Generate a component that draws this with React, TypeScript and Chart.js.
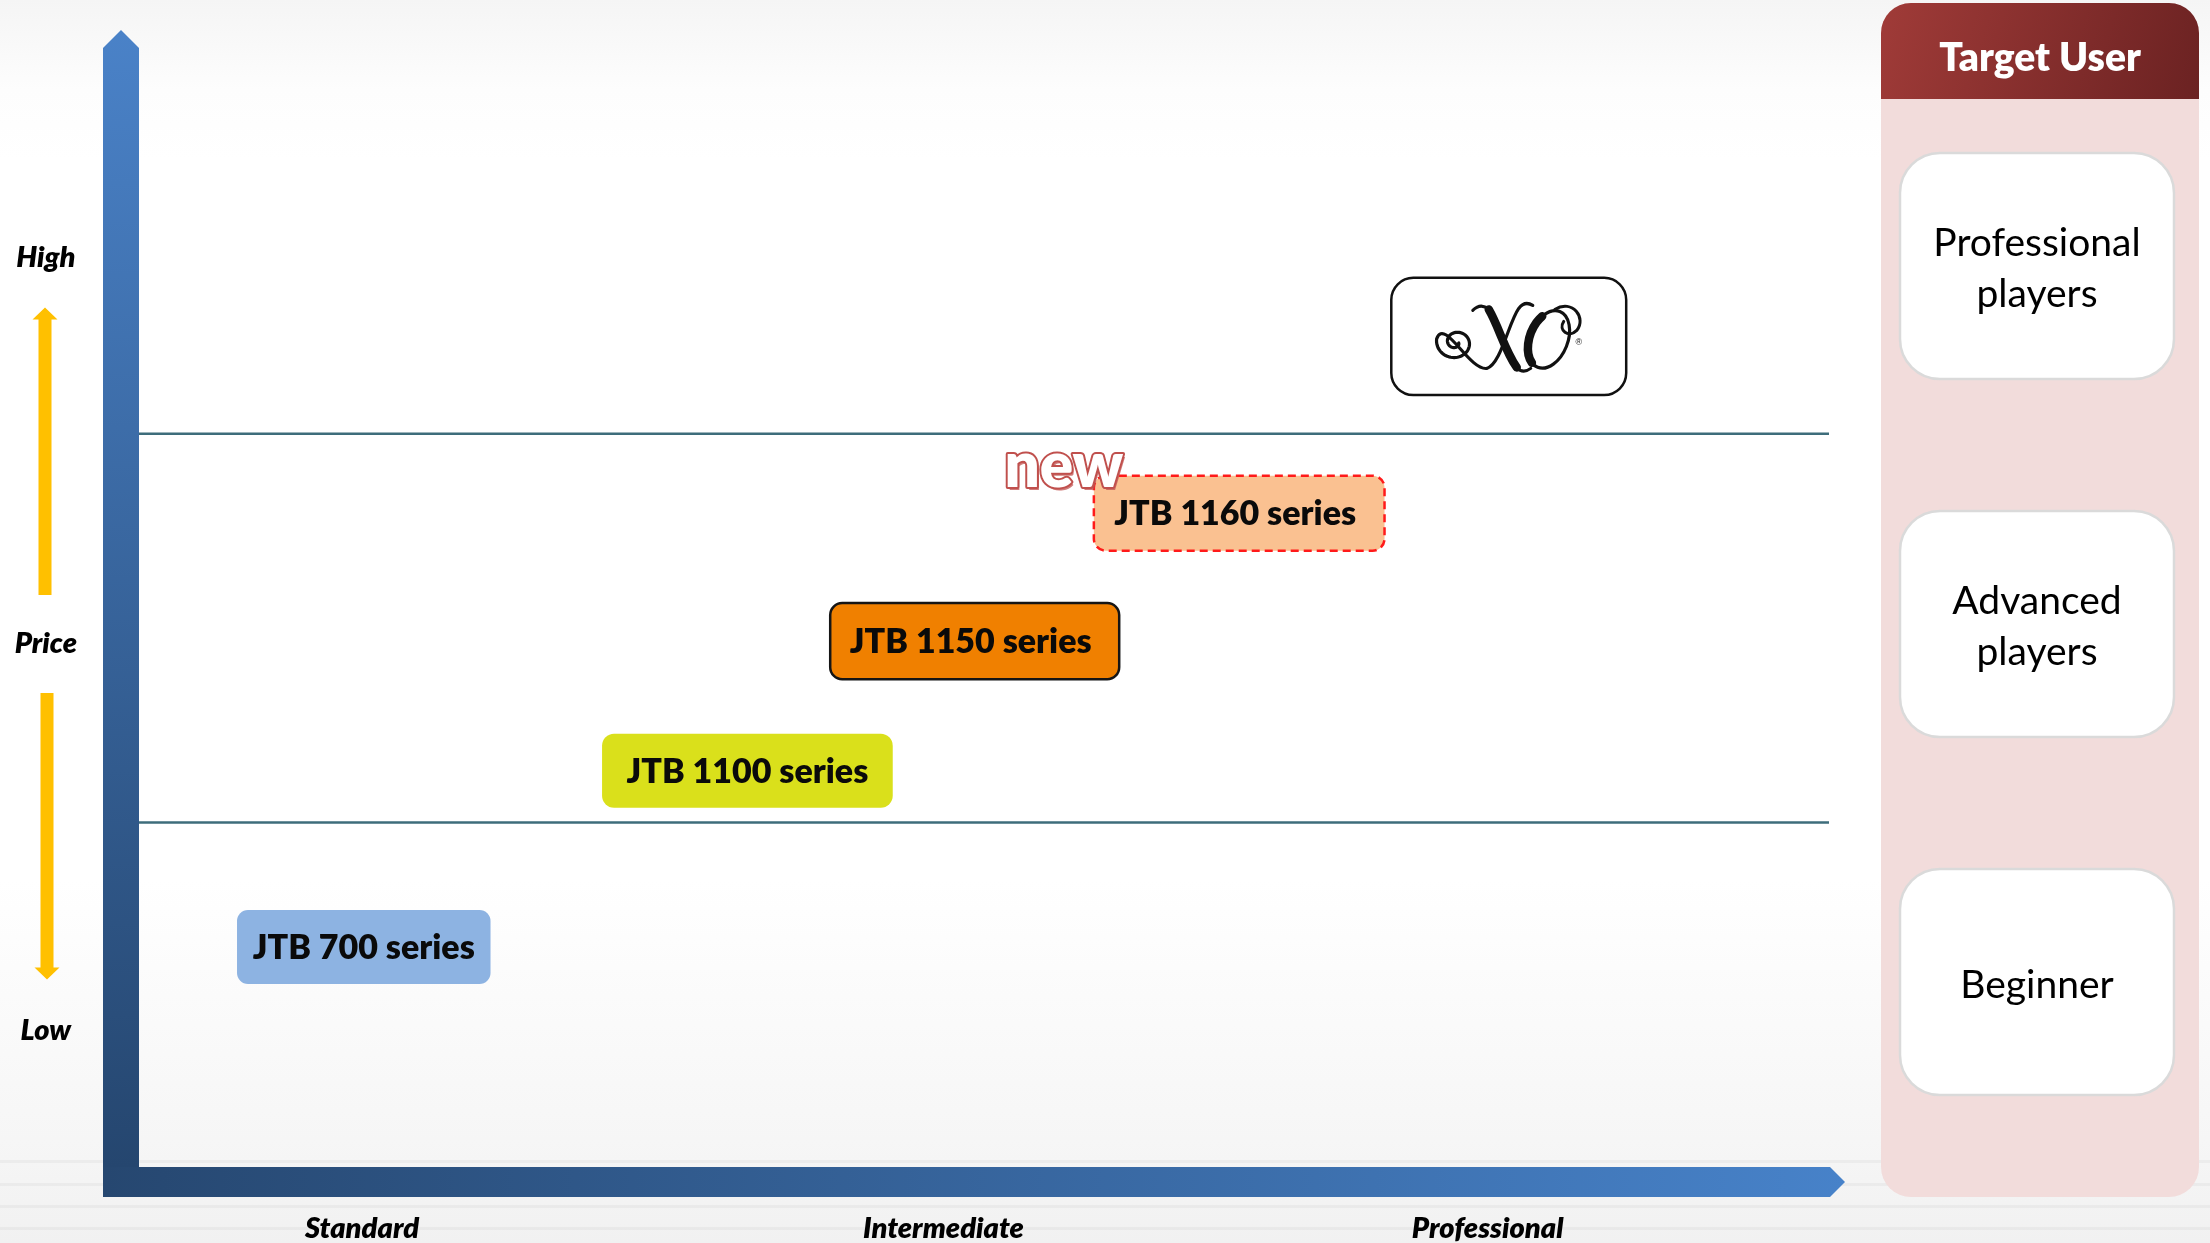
import React, { useEffect, useRef } from "react";
import { Chart, registerables } from "chart.js";

Chart.register(...registerables);

// ---- data ----
const xTickValues = [13.2, 47.6, 79.8];
const xTickLabels = ["Standard", "Intermediate", "Professional"];
const yTickValues = [80, 46, 12];
const yTickLabels = ["High", "Price", "Low"];
const tierBoundaries = [64.5, 30.3];

const productNames = ["JTB 700 series", "JTB 1100 series", "JTB 1150 series", "JTB 1160 series", "XO"];
const productXStart = [5.8, 27.4, 40.9, 56.5, 74.1];
const productXEnd = [20.8, 44.6, 58.0, 73.7, 88.0];
const productYLow = [16.1, 31.6, 42.9, 54.2, 67.9];
const productYHigh = [22.6, 38.1, 49.6, 60.8, 78.2];
const productIsNew = [false, false, false, true, false];

const targetUsers = [["Professional", "players"], ["Advanced", "players"], ["Beginner"]];
const panelTitle = "Target User";

// ---- styles ----
const BOLD = "800";
const productStyles = [
  { fill: "#8db3e2", stroke: null as string | null, dash: null as number[] | null, radius: 11 },
  { fill: "#dae01b", stroke: null, dash: null, radius: 12 },
  { fill: "#f08000", stroke: "#151515", dash: null, radius: 12 },
  { fill: "#fac191", stroke: "#ff1a1a", dash: [8, 5], radius: 12 },
  { fill: "#ffffff", stroke: "#111111", dash: null, radius: 22 },
];

function arrowV(ctx: CanvasRenderingContext2D, cx: number, yTail: number, yTip: number) {
  const dir = yTip < yTail ? -1 : 1;
  const sh = 6.5, hh = 12.5, hl = 12;
  const yBase = yTip - dir * hl;
  ctx.beginPath();
  ctx.moveTo(cx, yTip);
  ctx.lineTo(cx + hh, yBase);
  ctx.lineTo(cx + sh, yBase);
  ctx.lineTo(cx + sh, yTail);
  ctx.lineTo(cx - sh, yTail);
  ctx.lineTo(cx - sh, yBase);
  ctx.lineTo(cx - hh, yBase);
  ctx.closePath();
  ctx.fill();
}

function drawXoLogo(ctx: CanvasRenderingContext2D, cx: number, cy: number) {
  ctx.save();
  ctx.translate(cx, cy);
  ctx.strokeStyle = "#111";
  ctx.fillStyle = "#111";
  ctx.lineCap = "round";
  ctx.lineJoin = "round";
  // left spiral flowing into the thin upstroke of the X
  ctx.lineWidth = 3.2;
  ctx.beginPath();
  const sx = -53, sy = 6;
  let lastX = 0, lastY = 0;
  for (let k = 0; k <= 90; k++) {
    const t = (k / 90) * Math.PI * 3.0;
    const r = 3 + t * 1.75;
    const px = sx + r * Math.cos(t + 0.2);
    const py = sy + r * 0.92 * Math.sin(t + 0.2);
    if (k === 0) ctx.moveTo(px, py);
    else ctx.lineTo(px, py);
    lastX = px;
    lastY = py;
  }
  ctx.bezierCurveTo(lastX + 8, lastY - 22, -40, 34, -22, 32);
  ctx.bezierCurveTo(-8, 28, 0, -14, 10, -28);
  ctx.quadraticCurveTo(16, -36, 24, -31);
  ctx.stroke();
  // thick downstroke of the X
  ctx.lineWidth = 8.5;
  ctx.beginPath();
  ctx.moveTo(-20, -27);
  ctx.bezierCurveTo(-10, -10, -4, 14, 8, 31);
  ctx.stroke();
  ctx.lineWidth = 3;
  ctx.beginPath();
  ctx.moveTo(-20, -27);
  ctx.quadraticCurveTo(-28, -34, -36, -26);
  ctx.moveTo(8, 31);
  ctx.quadraticCurveTo(14, 38, 22, 32);
  ctx.stroke();
  // O
  ctx.lineWidth = 3.2;
  ctx.beginPath();
  ctx.ellipse(40, 3, 19, 30, 0.38, 0, Math.PI * 2);
  ctx.stroke();
  ctx.lineWidth = 8.5;
  ctx.beginPath();
  ctx.ellipse(40, 3, 19, 30, 0.38, Math.PI * 0.62, Math.PI * 1.22);
  ctx.stroke();
  // top-right curl of O
  ctx.lineWidth = 3;
  ctx.beginPath();
  ctx.moveTo(46, -27);
  ctx.bezierCurveTo(64, -38, 78, -18, 68, -6);
  ctx.bezierCurveTo(60, 2, 49, -6, 55, -15);
  ctx.stroke();
  ctx.font = '9px "Liberation Sans"';
  ctx.textAlign = "center";
  ctx.textBaseline = "middle";
  ctx.fillText("®", 70, 6);
  ctx.restore();
}

const decorPlugin = {
  id: "decor",
  beforeDraw(chart: any) {
    const ctx: CanvasRenderingContext2D = chart.ctx;
    ctx.save();
    ctx.fillStyle = "rgba(0,0,0,0.035)";
    [1160, 1183, 1205, 1227].forEach((y) => ctx.fillRect(0, y, chart.width, 3));
    ctx.restore();
  },
  beforeDatasetsDraw(chart: any) {
    const ctx: CanvasRenderingContext2D = chart.ctx;
    const ca = chart.chartArea;
    const ys = chart.scales.y;
    ctx.save();
    // vertical axis arrow
    const L = ca.left - 36, R = ca.left, T = ca.top, B = ca.bottom;
    const mid = (L + R) / 2;
    let g = ctx.createLinearGradient(0, T, 0, B);
    g.addColorStop(0, "#4a82c8");
    g.addColorStop(1, "#25466f");
    ctx.fillStyle = g;
    ctx.beginPath();
    ctx.moveTo(mid, T);
    ctx.lineTo(R, T + 18);
    ctx.lineTo(R, B);
    ctx.lineTo(L, B);
    ctx.lineTo(L, T + 18);
    ctx.closePath();
    ctx.fill();
    // horizontal axis arrow
    const top = ca.bottom, bot = ca.bottom + 30, left = ca.left - 36, tip = ca.right + 16;
    g = ctx.createLinearGradient(left, 0, tip, 0);
    g.addColorStop(0, "#264770");
    g.addColorStop(1, "#4782c9");
    ctx.fillStyle = g;
    ctx.beginPath();
    ctx.moveTo(left, top);
    ctx.lineTo(tip - 15, top);
    ctx.lineTo(tip, (top + bot) / 2);
    ctx.lineTo(tip - 15, bot);
    ctx.lineTo(left, bot);
    ctx.closePath();
    ctx.fill();
    // yellow price arrows
    const yHigh = ys.getPixelForValue(yTickValues[0]);
    const yPrice = ys.getPixelForValue(yTickValues[1]);
    const yLow = ys.getPixelForValue(yTickValues[2]);
    ctx.fillStyle = "#ffc000";
    arrowV(ctx, 45, yPrice - 49, yHigh + 50);
    arrowV(ctx, 47, yPrice + 49, yLow - 51);
    ctx.restore();
  },
  afterDatasetsDraw(chart: any) {
    const ctx: CanvasRenderingContext2D = chart.ctx;
    const xs = chart.scales.x, ys = chart.scales.y;
    ctx.save();
    productNames.forEach((name, i) => {
      const x1 = xs.getPixelForValue(productXStart[i]);
      const x2 = xs.getPixelForValue(productXEnd[i]);
      const y1 = ys.getPixelForValue(productYHigh[i]);
      const y2 = ys.getPixelForValue(productYLow[i]);
      const st = productStyles[i];
      ctx.beginPath();
      ctx.roundRect(x1, y1, x2 - x1, y2 - y1, st.radius);
      ctx.fillStyle = st.fill;
      ctx.fill();
      if (st.stroke) {
        ctx.lineWidth = 2.5;
        ctx.strokeStyle = st.stroke;
        ctx.setLineDash(st.dash || []);
        ctx.stroke();
        ctx.setLineDash([]);
      }
      const cx = (x1 + x2) / 2, cy = (y1 + y2) / 2;
      if (name === "XO") {
        drawXoLogo(ctx, cx, cy);
      } else {
        ctx.fillStyle = "#0a0a0a";
        ctx.font = `${BOLD} 34px Lato`;
        ctx.textAlign = "center";
        ctx.textBaseline = "middle";
        ctx.fillText(name, cx - (st.stroke ? 4 : 0), cy + 1);
      }
      if (productIsNew[i]) {
        ctx.font = `${BOLD} 62px Lato`;
        ctx.textAlign = "center";
        ctx.textBaseline = "alphabetic";
        const nx = x1 - 30, ny = y1 + 11;
        ctx.fillStyle = "rgba(192,80,77,0.75)";
        ctx.fillText("new", nx + 2, ny + 3);
        ctx.lineWidth = 4;
        ctx.strokeStyle = "#c0504d";
        ctx.lineJoin = "round";
        ctx.strokeText("new", nx, ny);
        ctx.fillStyle = "#ffffff";
        ctx.fillText("new", nx, ny);
      }
    });
    ctx.restore();
  },
  afterDraw(chart: any) {
    const ctx: CanvasRenderingContext2D = chart.ctx;
    const ca = chart.chartArea;
    const px = ca.right + 52, pw = 318, py = 3, ph = 1194;
    ctx.save();
    ctx.beginPath();
    ctx.roundRect(px, py, pw, ph, 30);
    ctx.fillStyle = "#f2dcdb";
    ctx.fill();
    // header
    const g = ctx.createLinearGradient(px, py, px + pw, py + 96);
    g.addColorStop(0, "#a03b38");
    g.addColorStop(1, "#6b2222");
    ctx.beginPath();
    ctx.roundRect(px, py, pw, 96, [30, 30, 0, 0]);
    ctx.fillStyle = g;
    ctx.fill();
    ctx.fillStyle = "#ffffff";
    ctx.font = `${BOLD} 39px Lato`;
    ctx.textAlign = "center";
    ctx.textBaseline = "middle";
    ctx.fillText(panelTitle, px + pw / 2, py + 55);
    // user boxes
    const centers = [266, 624, 982];
    targetUsers.forEach((lines, i) => {
      const bx = px + 19, bw = 274, bh = 226;
      const by = centers[i] - bh / 2;
      ctx.beginPath();
      ctx.roundRect(bx, by, bw, bh, 40);
      ctx.fillStyle = "#ffffff";
      ctx.fill();
      ctx.lineWidth = 2.5;
      ctx.strokeStyle = "#dadada";
      ctx.stroke();
      ctx.fillStyle = "#000";
      ctx.font = "39px Lato";
      const n = lines.length;
      lines.forEach((t, j) => {
        ctx.fillText(t, bx + bw / 2, centers[i] + 3 + (j - (n - 1) / 2) * 51);
      });
    });
    ctx.restore();
  },
};

export default function App() {
  const ref = useRef<HTMLCanvasElement>(null);
  useEffect(() => {
    let chart: Chart | null = null;
    let cancelled = false;
    const fonts = [`${BOLD} 34px Lato`, `italic ${BOLD} 29px Lato`, "39px Lato", '9px "Liberation Sans"'];
    const make = () => {
      if (cancelled || !ref.current) return;
      const tickFont = { family: "Lato", size: 29, style: "italic" as const, weight: BOLD as any };
      chart = new Chart(ref.current, {
        type: "scatter",
        data: {
          datasets: tierBoundaries.map((b) => ({
            type: "line" as const,
            data: [
              { x: 0, y: b },
              { x: 100, y: b },
            ],
            borderColor: "#3e6d7b",
            borderWidth: 2.5,
            pointRadius: 0,
            showLine: true,
            fill: false,
          })),
        },
        options: {
          responsive: false,
          animation: false,
          events: [],
          layout: { padding: { top: 30, right: 381, left: 0, bottom: 0 } },
          plugins: { legend: { display: false }, tooltip: { enabled: false } },
          scales: {
            x: {
              type: "linear",
              min: 0,
              max: 100,
              grid: { display: false, drawTicks: false },
              border: { display: false },
              afterBuildTicks: (s: any) => {
                s.ticks = xTickValues.map((v) => ({ value: v }));
              },
              afterFit: (s: any) => {
                s.height = 76;
                s.paddingLeft = 0;
                s.paddingRight = 0;
                s.paddingTop = 0;
                s.paddingBottom = 0;
              },
              ticks: {
                autoSkip: false,
                maxRotation: 0,
                padding: 44,
                color: "#000",
                font: tickFont,
                callback: (_v: any, i: number) => xTickLabels[i] ?? "",
              },
            },
            y: {
              type: "linear",
              min: 0,
              max: 100,
              grid: { display: false, drawTicks: false },
              border: { display: false },
              afterBuildTicks: (s: any) => {
                s.ticks = yTickValues.map((v) => ({ value: v }));
              },
              afterFit: (s: any) => {
                s.width = 139;
                s.paddingLeft = 0;
                s.paddingRight = 0;
                s.paddingTop = 0;
                s.paddingBottom = 0;
              },
              ticks: {
                autoSkip: false,
                crossAlign: "center",
                padding: 62,
                color: "#000",
                font: tickFont,
                callback: (_v: any, i: number) => yTickLabels[i] ?? "",
              },
            },
          },
        } as any,
        plugins: [decorPlugin],
      });
    };
    Promise.all(fonts.map((f) => document.fonts.load(f)))
      .catch(() => null)
      .then(make);
    return () => {
      cancelled = true;
      if (chart) chart.destroy();
    };
  }, []);

  return (
    <div
      style={{
        position: "fixed",
        left: 0,
        top: 0,
        width: 2210,
        height: 1243,
        background:
          "linear-gradient(to bottom, #f5f5f5 0px, #fdfdfd 90px, #ffffff 160px, #ffffff 880px, #f6f6f6 1140px, #f1f1f1 1243px)",
      }}
    >
      <canvas ref={ref} width={2210} height={1243} style={{ display: "block" }} />
    </div>
  );
}
